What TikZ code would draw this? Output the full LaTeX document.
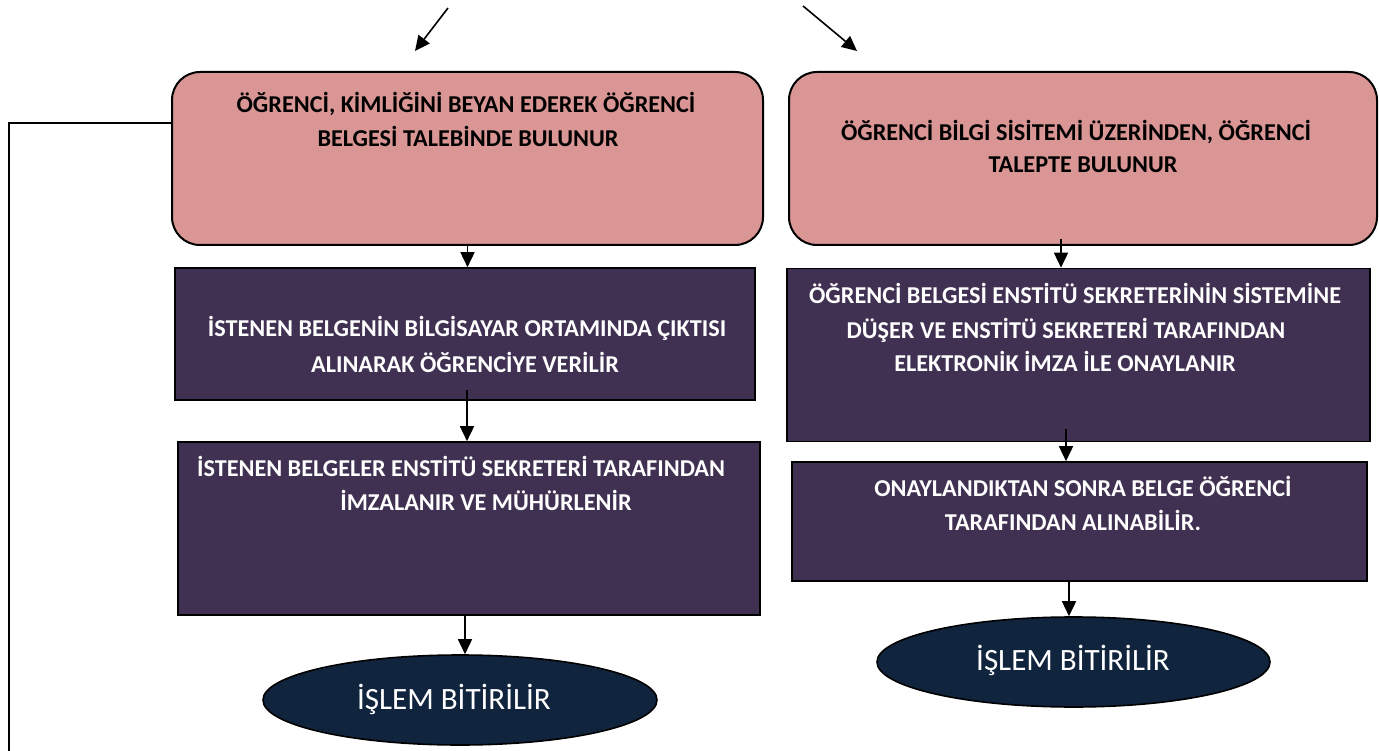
\documentclass[tikz,border=0pt]{standalone}
\usepackage{fontspec}
\setmainfont{Carlito}
\usetikzlibrary{arrows.meta,shapes.geometric}

\definecolor{rosefill}{HTML}{D99694}
\definecolor{plumfill}{HTML}{403152}
\definecolor{navyfill}{HTML}{10243E}

\begin{document}
\begin{tikzpicture}[x=1pt,y=-1pt,
  request/.style={draw=black,line width=2pt,fill=rosefill,rounded corners=28pt,
    minimum width=#1,minimum height=173pt,inner sep=0pt},
  task/.style={draw=black,line width=1.6pt,fill=plumfill,inner sep=0pt},
  finish/.style={draw=black,line width=1.6pt,fill=navyfill,ellipse,inner sep=0pt,
    minimum width=394pt,minimum height=90pt},
  darktxt/.style={anchor=base,inner sep=0pt,text=black,font=\fontsize{24.2}{28}\selectfont\bfseries},
  lighttxt/.style={anchor=base,inner sep=0pt,text=white,font=\fontsize{24.2}{28}\selectfont\bfseries},
  endtxt/.style={inner sep=0pt,text=white,font=\fontsize{31}{36}\selectfont},
  arr/.style={draw=black,line width=1.6pt,-{Triangle[length=15pt,width=14pt]}},
  wire/.style={draw=black,line width=1.6pt}]
\useasboundingbox (0,0) rectangle (1379,751);

% request boxes
\node[request=591pt] (reqL) at (467.5,158.5) {};
\node[request=588pt] (reqR) at (1083,158.5) {};

% left branch
\node[task,minimum width=580pt,minimum height=132pt] (taskL1) at (465,334) {};
\node[task,minimum width=582pt,minimum height=173pt] (taskL2) at (469,528.5) {};
\node[finish] (endL) at (460,700) {};

% right branch
\node[task,minimum width=583pt,minimum height=173pt] (taskR1) at (1078.5,355) {};
\node[task,minimum width=575pt,minimum height=119pt] (taskR2) at (1079.5,521.5) {};
\node[finish,minimum width=393pt] (endR) at (1073.5,662) {};

% texts
\node[darktxt] (reqL1) at (466,113) {ÖĞRENCİ, KİMLİĞİNİ BEYAN EDEREK ÖĞRENCİ};
\node[darktxt] (reqL2) at (468,147) {BELGESİ TALEBİNDE BULUNUR};
\node[darktxt] (reqR1) at (1076,141) {ÖĞRENCİ BİLGİ SİSİTEMİ ÜZERİNDEN, ÖĞRENCİ};
\node[darktxt] (reqR2) at (1083,173) {TALEPTE BULUNUR};

\node[lighttxt] (tL11) at (467,337) {İSTENEN BELGENİN BİLGİSAYAR ORTAMINDA ÇIKTISI};
\node[lighttxt] (tL12) at (465,372) {ALINARAK ÖĞRENCİYE VERİLİR};
\node[lighttxt] (tL21) at (461,476) {İSTENEN BELGELER ENSTİTÜ SEKRETERİ TARAFINDAN};
\node[lighttxt] (tL22) at (486,510) {İMZALANIR VE MÜHÜRLENİR};

\node[lighttxt] (tR11) at (1075,304) {ÖĞRENCİ BELGESİ ENSTİTÜ SEKRETERİNİN SİSTEMİNE};
\node[lighttxt] (tR12) at (1066,338) {DÜŞER VE ENSTİTÜ SEKRETERİ TARAFINDAN};
\node[lighttxt] (tR13) at (1065,371) {ELEKTRONİK İMZA İLE ONAYLANIR};
\node[lighttxt] (tR21) at (1083,496) {ONAYLANDIKTAN SONRA BELGE ÖĞRENCİ};
\node[lighttxt] (tR22) at (1073,530) {TARAFINDAN ALINABİLİR.};

\node[endtxt] (endLt) at (454,699) {İŞLEM BİTİRİLİR};
\node[endtxt] (endRt) at (1073,660) {İŞLEM BİTİRİLİR};

% incoming arrows at the top
\coordinate (inL) at (448,8);
\coordinate (inLtip) at (415,51);
\coordinate (inR) at (803,6);
\coordinate (inRtip) at (857,51);
\draw[arr] (inL) -- (inLtip);
\draw[arr] (inR) -- (inRtip);

% left flow
\draw[arr] (reqL.south) -- (reqL.south |- taskL1.north);
\coordinate (l2s) at ([xshift=2pt,yshift=11pt]taskL1.south);
\draw[arr] (l2s) -- (l2s |- taskL2.north);
\coordinate (l3s) at ([xshift=-4pt]taskL2.south);
\draw[arr] (l3s) -- (l3s |- endL.north);

% right flow
\coordinate (r1s) at ([xshift=-22pt,yshift=7pt]reqR.south);
\draw[arr] (r1s) -- (r1s |- taskR1.north);
\coordinate (r2s) at ([xshift=-12.5pt,yshift=13pt]taskR1.south);
\draw[arr] (r2s) -- (r2s |- taskR2.north);
\coordinate (r3s) at ([xshift=-10.5pt]taskR2.south);
\draw[arr] (r3s) -- (r3s |- endR.north);

% return line on the left
\coordinate (fbTop) at (9,123);
\coordinate (fbEnd) at (9,751);
\draw[wire] (reqL.west |- fbTop) -- (fbTop) -- (fbEnd);
\end{tikzpicture}
\end{document}
